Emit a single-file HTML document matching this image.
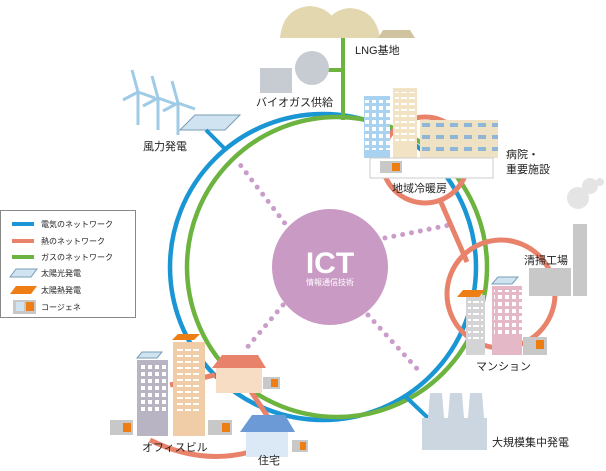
<!DOCTYPE html>
<html><head><meta charset="utf-8"><style>
html,body{margin:0;padding:0;background:#fff}
text{font-family:"Liberation Sans","Noto Sans CJK JP",sans-serif;fill:#222}
</style></head><body>
<svg width="606" height="466" viewBox="0 0 606 466" xmlns="http://www.w3.org/2000/svg">
<defs>
<pattern id="w1" width="7" height="7" patternUnits="userSpaceOnUse"><rect x="1" y="1" width="4" height="4" fill="#fff"/></pattern>
<pattern id="w2" width="8" height="6" patternUnits="userSpaceOnUse"><rect x="1" y="1" width="6" height="2" fill="#fff"/></pattern>
<pattern id="w3" width="14" height="12" patternUnits="userSpaceOnUse"><rect x="2" y="3" width="8" height="4" fill="#8fb6d6"/></pattern>
</defs>
<!-- dotted ICT links -->
<g stroke="#c99cc9" stroke-width="5" stroke-linecap="round" stroke-dasharray="0 9" fill="none">
<line x1="290" y1="230" x2="238" y2="162"/>
<line x1="385" y1="238" x2="450" y2="225"/>
<line x1="283" y1="305" x2="245" y2="350"/>
<line x1="368" y1="315" x2="420" y2="372"/>
</g>
<!-- rings -->
<circle cx="323" cy="267" r="153" fill="none" stroke="#1a96d4" stroke-width="4.5"/>
<circle cx="337" cy="267" r="150" fill="none" stroke="#6cb33f" stroke-width="4.5"/>
<!-- heat network -->
<g fill="none" stroke="#e9826a" stroke-width="5">
<circle cx="425" cy="160" r="43"/>
<circle cx="501" cy="294" r="54"/>
<path d="M440 200 L467 262"/>
<path d="M150 440 Q200 465 250 452"/>
<path d="M170 385 L215 375"/>
<path d="M250 390 L270 420"/>
</g>
<!-- LNG -->
<g fill="#e3d7b0">
<path d="M280 38 Q283 8 310 6 Q337 8 340 38Z"/>
<path d="M323 38 Q325 10 350 8 Q376 10 380 38Z"/>
<path d="M378 38 L415 38 L410 30 L383 30Z" fill="#cfc3a0"/>
</g>
<rect x="341" y="38" width="4" height="82" fill="#6cb33f"/>
<rect x="328" y="68" width="15" height="4" fill="#6cb33f"/>
<rect x="260" y="68" width="32" height="25" fill="#c7ccd2"/>
<circle cx="312" cy="68" r="17" fill="#c7ccd2"/>
<text x="355" y="54" font-size="11">LNG基地</text>
<text x="256" y="106" font-size="11">バイオガス供給</text>
<!-- wind -->
<g stroke="#9fcbe6" stroke-width="3" fill="none">
<line x1="138" y1="92" x2="138" y2="125"/><line x1="158" y1="98" x2="158" y2="130"/><line x1="178" y1="103" x2="178" y2="135"/>
<path d="M138 92 L132 70 M138 92 L123 100 M138 92 L155 98"/>
<path d="M158 98 L152 76 M158 98 L143 106 M158 98 L175 104"/>
<path d="M178 103 L172 81 M178 103 L163 111 M178 103 L195 109"/>
</g>
<polygon points="180,130 195,115 240,115 225,130" fill="#cfe3f1" stroke="#7a9cb5"/>
<line x1="206" y1="130" x2="226" y2="150" stroke="#1a96d4" stroke-width="4"/>
<text x="143" y="150" font-size="11">風力発電</text>
<!-- hospital -->
<rect x="364" y="96" width="26" height="62" fill="#a8d2ef"/><rect x="364" y="100" width="26" height="50" fill="url(#w1)"/>
<rect x="393" y="88" width="24" height="70" fill="#f1e3c4"/><rect x="395" y="92" width="20" height="50" fill="url(#w2)"/>
<rect x="420" y="120" width="78" height="38" fill="#efe1c3"/><rect x="420" y="120" width="78" height="32" fill="url(#w3)"/>
<rect x="370" y="158" width="123" height="20" fill="#fff" stroke="#ccc"/>
<rect x="380" y="161" width="22" height="12" fill="#c8c8c8"/><rect x="392" y="163" width="8" height="8" fill="#ee7d13"/>
<text x="392" y="192" font-size="11">地域冷暖房</text>
<text x="506" y="158" font-size="11">病院・</text>
<text x="506" y="173" font-size="11">重要施設</text>
<!-- mansion -->
<rect x="466" y="295" width="19" height="60" fill="#d4d4d6"/><rect x="468" y="298" width="15" height="44" fill="url(#w2)"/>
<polygon points="457,297 463,290 485,290 479,297" fill="#ee7d13"/>
<rect x="492" y="286" width="30" height="69" fill="#e4b8c6"/><rect x="494" y="290" width="28" height="45" fill="url(#w1)"/>
<polygon points="492,284 498,277 518,277 512,284" fill="#cfe3f1" stroke="#7a9cb5"/>
<rect x="523" y="337" width="24" height="18" fill="#c8c8c8"/><rect x="536" y="340" width="8" height="9" fill="#ee7d13"/>
<text x="476" y="370" font-size="11">マンション</text>
<!-- cleaning factory -->
<rect x="529" y="268" width="42" height="28" fill="#c8c8c8"/>
<rect x="573" y="224" width="14" height="72" fill="#c8c8c8"/>
<circle cx="578" cy="198" r="11" fill="#e4e4e4"/><circle cx="590" cy="186" r="8" fill="#e4e4e4"/><circle cx="600" cy="182" r="4" fill="#e4e4e4"/>
<text x="524" y="264" font-size="11">清掃工場</text>
<!-- power plant -->
<line x1="405" y1="396" x2="428" y2="418" stroke="#1a96d4" stroke-width="4"/>
<path d="M422 450 L422 418 L428 418 L430 393 L442 393 L444 418 L448 418 L450 393 L462 393 L464 418 L468 418 L470 393 L482 393 L484 418 L487 418 L487 450Z" fill="#ccd6e0"/>
<text x="492" y="446" font-size="11">大規模集中発電</text>
<!-- office -->
<rect x="137" y="360" width="31" height="76" fill="#b8b4c4"/><rect x="140" y="364" width="26" height="50" fill="url(#w1)"/>
<polygon points="137,358 142,352 162,352 157,358" fill="#cfe3f1" stroke="#7a9cb5"/>
<rect x="173" y="342" width="32" height="94" fill="#f0cda6"/><rect x="177" y="348" width="24" height="66" fill="url(#w2)"/>
<polygon points="172,340 178,334 200,334 194,340" fill="#ee7d13"/>
<rect x="110" y="420" width="23" height="15" fill="#c8c8c8"/><rect x="123" y="423" width="8" height="9" fill="#ee7d13"/>
<rect x="208" y="420" width="24" height="15" fill="#c8c8c8"/><rect x="222" y="423" width="8" height="9" fill="#ee7d13"/>
<text x="142" y="451" font-size="11">オフィスビル</text>
<!-- houses -->
<polygon points="212,368 222,355 258,355 266,368" fill="#e9826a"/>
<rect x="216" y="368" width="46" height="25" fill="#f7ddc4"/>
<rect x="263" y="377" width="17" height="12" fill="#c8c8c8"/><rect x="271" y="379" width="7" height="8" fill="#ee7d13"/>
<polygon points="240,432 252,415 285,415 295,432" fill="#6c9ad6"/>
<rect x="246" y="432" width="42" height="25" fill="#dbe9f6"/>
<rect x="292" y="440" width="16" height="12" fill="#c8c8c8"/><rect x="300" y="442" width="6" height="8" fill="#ee7d13"/>
<text x="258" y="464" font-size="11">住宅</text>
<!-- ICT -->
<circle cx="330" cy="267" r="58" fill="#c99ac4"/>
<text x="330" y="273" font-size="30" font-weight="bold" text-anchor="middle" style="fill:#fff">ICT</text>
<text x="330" y="285" font-size="8" text-anchor="middle" style="fill:#fff">情報通信技術</text>
<!-- legend -->
<rect x="0.5" y="210.5" width="135" height="107" fill="#fff" stroke="#888"/>
<g font-size="8">
<rect x="12" y="222" width="22" height="4" fill="#1a96d4"/><text x="41" y="227">電気のネットワーク</text>
<rect x="12" y="239" width="22" height="4" fill="#e9826a"/><text x="41" y="244">熱のネットワーク</text>
<rect x="12" y="255" width="22" height="4" fill="#6cb33f"/><text x="41" y="260">ガスのネットワーク</text>
<polygon points="10,277 16,269 37,269 31,277" fill="#cfe3f1" stroke="#7a9cb5"/><text x="41" y="276">太陽光発電</text>
<polygon points="10,294 16,286 37,286 31,294" fill="#ee7d13"/><text x="41" y="293">太陽熱発電</text>
<rect x="13" y="300" width="23" height="14" fill="#c8c8c8"/><rect x="16" y="302" width="8" height="9" fill="#cfe3f1"/><rect x="26" y="302" width="8" height="9" fill="#ee7d13"/><text x="41" y="310">コージェネ</text>
</g>
</svg>
</body></html>
